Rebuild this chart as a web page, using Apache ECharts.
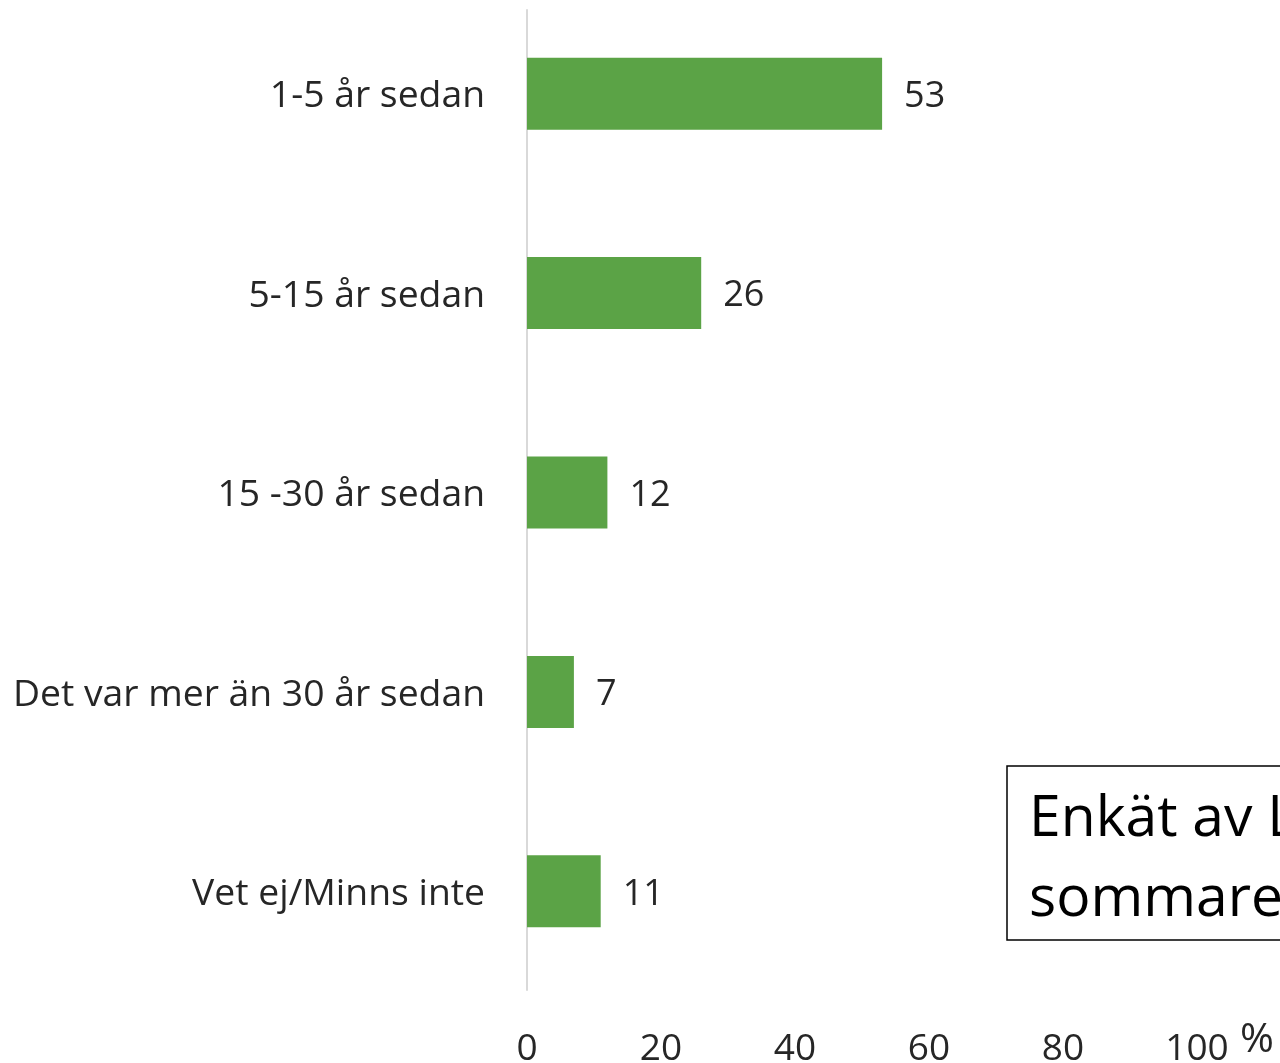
<!DOCTYPE html>
<html>
<head>
<meta charset="utf-8">
<script src="https://cdn.jsdelivr.net/npm/echarts@6/dist/echarts.min.js"></script>
<style>
  html, body { margin: 0; padding: 0; background: #fff; }
  #chart { width: 1280px; height: 1063px; }
</style>
</head>
<body>
<div id="chart"></div>
<script>
// data
const categories = ['1-5 år sedan', '5-15 år sedan', '15 -30 år sedan', 'Det var mer än 30 år sedan', 'Vet ej/Minns inte']
const values = [53, 26, 12, 7, 11]
const xTicks = [0, 20, 40, 60, 80, 100]
const unitLabel = '%'
const noteLines = ['Enkät av L', 'sommaren']

const font = '"Open Sans", "Noto Sans", sans-serif'
const textColor = '#262626'

const chart = echarts.init(document.getElementById('chart'))
chart.setOption({
  animation: false,
  grid: [
    // plot area (labels are allowed to run off the bottom, as in the original)
    { left: 527, right: 83, top: -6, bottom: 72, outerBoundsMode: 'none' },
    // only for the vertical axis line, which starts a bit below the top
    { left: 527, right: 83, top: 10, bottom: 73, outerBoundsMode: 'none' }
  ],
  xAxis: [{
    type: 'value',
    gridIndex: 0,
    min: xTicks[0],
    max: xTicks[xTicks.length - 1],
    interval: 20,
    axisLine: { show: false },
    axisTick: { show: false },
    splitLine: { show: false },
    axisLabel: { margin: 40, fontFamily: font, fontSize: 37, color: textColor }
  }, {
    type: 'value',
    gridIndex: 1,
    show: false
  }],
  yAxis: [{
    type: 'category',
    gridIndex: 0,
    data: categories,
    inverse: true,
    axisLine: { show: false },
    axisTick: { show: false },
    axisLabel: {
      margin: 42,
      formatter: v => '{c|' + v + '}',
      rich: {
        c: { padding: [6, 0, 0, 0], fontFamily: font, fontSize: 37.3, color: textColor }
      }
    }
  }, {
    type: 'category',
    gridIndex: 1,
    data: categories,
    axisLine: { show: true, lineStyle: { color: '#d9d9d9', width: 2 } },
    axisTick: { show: false },
    axisLabel: { show: false }
  }],
  series: [{
    type: 'bar',
    data: values,
    barWidth: 72,
    itemStyle: { color: '#5ba346' },
    label: { show: true, position: 'right', distance: 22, offset: [0, 3], fontFamily: font, fontSize: 36, color: textColor }
  }],
  graphic: [
    { type: 'text', left: 1240, top: 1020, style: { text: unitLabel, fontFamily: font, fontSize: 41, fill: textColor } },
    { type: 'rect', shape: { x: 1007, y: 766, width: 400, height: 174 }, style: { fill: '#fff', stroke: '#000', lineWidth: 1.5 } },
    { type: 'text', x: 1029, y: 780, style: { text: noteLines.join('\n'), fontFamily: font, fontSize: 57, lineHeight: 80, fill: '#000', verticalAlign: 'top' } }
  ]
})
</script>
</body>
</html>
